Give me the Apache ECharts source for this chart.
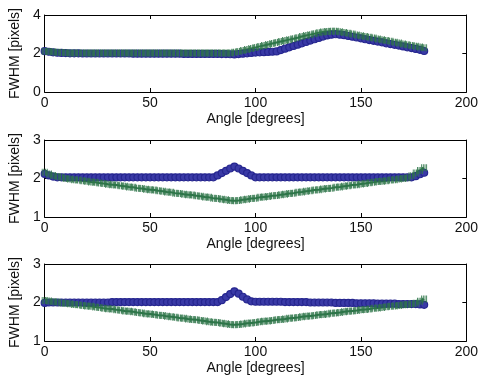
<!DOCTYPE html>
<html>
	<head>
		<meta charset="UTF-8">
		<title></title>
		<script src="https://cdn.jsdelivr.net/npm/echarts@6/dist/echarts.min.js" type="text/javascript" charset="utf-8"></script>
	</head>
	<body style="margin: 0;">
		<div id="chart" style="width: 481px;height: 379px;"></div>
		<script type="text/javascript">
			// angle samples (degrees)
			var angles = [0,2,4,6,8,10,12,14,16,18,20,22,24,26,28,30,32,34,36,38,40,42,44,46,48,50,52,54,56,58,60,62,64,66,68,70,72,74,76,78,80,82,84,86,88,
				90,92,94,96,98,100,102,104,106,108,110,112,114,116,118,120,122,124,126,128,130,132,134,136,138,140,142,144,146,148,150,152,154,156,158,160,162,164,166,168,170,172,174,176,178,180];

			// panel 1
			var blue1 = [2.12,2.09,2.06,2.04,2.03,2.02,2.01,2.01,2.01,2.0,2.0,2.0,2.0,2.0,2.0,2.0,2.0,2.0,2.0,2.0,2.0,1.99,1.99,1.99,1.99,1.99,1.99,1.99,1.99,1.99,1.99,1.99,1.99,1.98,1.98,1.98,1.98,1.98,1.98,1.98,1.98,1.98,1.97,1.97,1.96,
				1.95,1.97,1.99,2.01,2.03,2.05,2.06,2.07,2.08,2.09,2.11,2.18,2.25,2.32,2.39,2.46,2.53,2.60,2.67,2.74,2.81,2.88,2.94,2.98,3.0,2.98,2.95,2.91,2.87,2.83,2.79,2.74,2.70,2.66,2.62,2.58,2.53,2.49,2.45,2.41,2.37,2.32,2.28,2.24,2.19,2.13];
			var green1 = [2.12,2.10,2.08,2.06,2.05,2.04,2.03,2.03,2.03,2.03,2.03,2.03,2.03,2.03,2.03,2.03,2.03,2.03,2.03,2.03,2.03,2.03,2.03,2.03,2.03,2.03,2.03,2.03,2.03,2.03,2.03,2.03,2.03,2.03,2.03,2.03,2.03,2.03,2.03,2.03,2.03,2.03,2.03,2.02,2.02,
				2.06,2.11,2.16,2.21,2.26,2.31,2.37,2.42,2.47,2.52,2.57,2.62,2.67,2.72,2.77,2.82,2.88,2.93,2.98,3.03,3.08,3.12,3.14,3.15,3.15,3.13,3.09,3.05,3.01,2.96,2.92,2.88,2.84,2.80,2.75,2.71,2.67,2.63,2.59,2.55,2.50,2.46,2.42,2.38,2.34,2.30];

			// panel 2
			var blue2 = [2.12,2.08,2.05,2.03,2.03,2.03,2.03,2.03,2.03,2.03,2.03,2.03,2.03,2.03,2.03,2.03,2.03,2.03,2.03,2.03,2.03,2.03,2.03,2.03,2.03,2.03,2.03,2.03,2.03,2.03,2.03,2.03,2.03,2.03,2.03,2.03,2.03,2.03,2.03,2.03,2.03,2.08,2.14,2.20,2.26,
				2.31,2.26,2.20,2.14,2.08,2.03,2.03,2.03,2.03,2.03,2.03,2.03,2.03,2.03,2.03,2.03,2.03,2.03,2.03,2.03,2.03,2.03,2.03,2.03,2.03,2.03,2.03,2.03,2.03,2.03,2.03,2.03,2.03,2.03,2.03,2.03,2.03,2.03,2.03,2.03,2.03,2.03,2.03,2.06,2.11,2.15];
			var green2 = [2.16,2.12,2.08,2.05,2.03,2.0,1.99,1.97,1.96,1.94,1.93,1.91,1.90,1.88,1.87,1.85,1.84,1.83,1.81,1.80,1.78,1.77,1.75,1.74,1.72,1.71,1.70,1.68,1.67,1.65,1.64,1.62,1.61,1.59,1.58,1.57,1.55,1.54,1.52,1.51,1.49,1.48,1.46,1.45,1.43,
				1.42,1.43,1.45,1.46,1.48,1.49,1.51,1.52,1.53,1.55,1.56,1.58,1.59,1.61,1.62,1.64,1.65,1.67,1.68,1.70,1.71,1.73,1.74,1.75,1.77,1.78,1.80,1.81,1.83,1.84,1.86,1.87,1.89,1.90,1.92,1.93,1.94,1.96,1.97,1.99,2.00,2.02,2.07,2.14,2.21,2.28];

			// panel 3
			var blue3 = [1.99,2.0,2.0,2.0,2.0,2.0,2.0,2.0,2.0,2.0,2.0,2.0,2.0,2.0,2.0,2.0,2.01,2.01,2.01,2.01,2.01,2.01,2.01,2.01,2.01,2.01,2.01,2.01,2.01,2.01,2.01,2.01,2.01,2.01,2.01,2.01,2.01,2.01,2.01,2.01,2.01,2.01,2.06,2.14,2.22,
				2.29,2.23,2.15,2.08,2.03,2.02,2.02,2.02,2.02,2.02,2.02,2.02,2.01,2.01,2.01,2.01,2.01,2.01,2.0,2.0,2.0,2.0,2.0,2.0,1.99,1.99,1.99,1.99,1.99,1.98,1.98,1.98,1.98,1.98,1.97,1.97,1.97,1.97,1.97,1.96,1.96,1.96,1.96,1.96,1.95,1.94];
			var green3 = [2.05,2.04,2.02,2.01,1.99,1.98,1.97,1.95,1.94,1.92,1.91,1.90,1.88,1.87,1.85,1.84,1.83,1.81,1.80,1.78,1.77,1.76,1.74,1.73,1.71,1.70,1.69,1.67,1.66,1.64,1.63,1.62,1.60,1.59,1.57,1.56,1.55,1.53,1.52,1.50,1.49,1.48,1.46,1.45,1.43,
				1.42,1.43,1.44,1.46,1.47,1.48,1.50,1.51,1.52,1.53,1.55,1.56,1.57,1.59,1.60,1.61,1.63,1.64,1.65,1.66,1.68,1.69,1.70,1.72,1.73,1.74,1.76,1.77,1.78,1.79,1.81,1.82,1.83,1.85,1.86,1.87,1.89,1.90,1.91,1.92,1.94,1.95,1.96,1.98,2.03,2.09];

			var yRanges = [[0, 4, 2], [1, 3, 1], [1, 3, 1]];
			var blues = [blue1, blue2, blue3];
			var greens = [green1, green2, green3];

			var blueColor = '#26268f';
			var greenColor = '#2e7549';
			var font = 'Liberation Sans, Arial, sans-serif';
			var tops = [15, 140, 264];

			function pairs(vals) {
				return angles.map((a, i) => [a, vals[i]]);
			}

			var grids = [], xAxes = [], yAxes = [], series = [];
			for (var p = 0; p < 3; p++) {
				grids.push({left: 39, right: 13, top: tops[p], height: 77});
				xAxes.push({
					type: 'value', gridIndex: p, min: 0, max: 200, interval: 50,
					name: 'Angle [degrees]', nameLocation: 'middle', nameGap: 20,
					nameTextStyle: {color: '#111', fontSize: 14, fontFamily: font},
					axisLine: {onZero: false, lineStyle: {color: '#000', width: 1}},
					axisTick: {inside: true, length: 4, lineStyle: {color: '#000'}},
					axisLabel: {color: '#111', fontSize: 14, fontFamily: font, margin: 4},
					splitLine: {show: false}
				});
				xAxes.push({
					type: 'value', gridIndex: p, min: 0, max: 200, interval: 50, position: 'top',
					axisLine: {onZero: false, lineStyle: {color: '#000', width: 1}},
					axisTick: {inside: true, length: 4, lineStyle: {color: '#000'}},
					axisLabel: {show: false},
					splitLine: {show: false}
				});
				yAxes.push({
					type: 'value', gridIndex: p, min: yRanges[p][0], max: yRanges[p][1], interval: yRanges[p][2],
					name: 'FWHM [pixels]', nameLocation: 'middle', nameGap: 20,
					nameTextStyle: {color: '#111', fontSize: 14, fontFamily: font},
					axisLine: {show: true, onZero: false, lineStyle: {color: '#000', width: 1}},
					axisTick: {show: true, inside: true, length: 4, lineStyle: {color: '#000'}},
					axisLabel: {color: '#111', fontSize: 14, fontFamily: font, margin: 4},
					splitLine: {show: false}
				});
				yAxes.push({
					type: 'value', gridIndex: p, min: yRanges[p][0], max: yRanges[p][1], interval: yRanges[p][2], position: 'right',
					axisLine: {show: true, onZero: false, lineStyle: {color: '#000', width: 1}},
					axisTick: {show: true, inside: true, length: 4, lineStyle: {color: '#000'}},
					axisLabel: {show: false},
					splitLine: {show: false}
				});
				series.push({
					type: 'line', xAxisIndex: p * 2, yAxisIndex: p * 2,
					data: pairs(blues[p]),
					symbol: 'circle', symbolSize: 7,
					lineStyle: {color: blueColor, width: 5},
					itemStyle: {color: '#3a3aa6', borderColor: blueColor, borderWidth: 1.2}
				});
				series.push({
					type: 'line', xAxisIndex: p * 2, yAxisIndex: p * 2,
					data: pairs(greens[p]),
					symbol: 'path://M0,0L0,10M3.3,0L3.3,10M6.7,0L6.7,10M10,0L10,10', symbolSize: [5, 7],
					lineStyle: {color: greenColor, width: 2, shadowColor: 'rgba(60,140,90,0.45)', shadowBlur: 3},
					itemStyle: {color: greenColor, borderColor: greenColor, borderWidth: 1}
				});
			}

			var chart = echarts.init(document.getElementById('chart'));
			var option = {
				animation: false,
				backgroundColor: '#fff',
				grid: grids,
				xAxis: xAxes,
				yAxis: yAxes,
				series: series
			};
			chart.setOption(option, true);
		</script>
	</body>
</html>
